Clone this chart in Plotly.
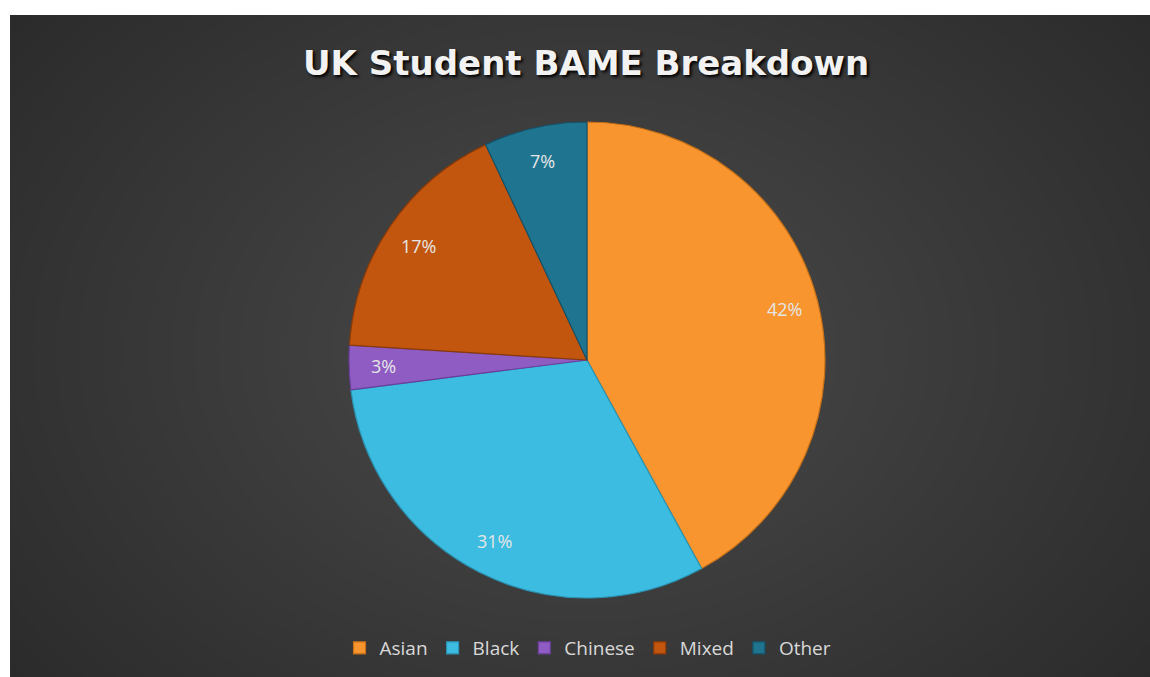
import math
import plotly.graph_objects as go

categories = ["Asian", "Black", "Chinese", "Mixed", "Other"]
values = [42, 31, 3, 17, 7]
colors = ["#F8952E", "#3BBCE0", "#8E5CC3", "#C2560F", "#1F7590"]
line_colors = ["#C46F16", "#2A93B3", "#6A3E9A", "#8A3A08", "#14536A"]
title_text = "UK Student BAME Breakdown"

W, H = 1150, 677
fig = go.Figure()

cx, cy, R = 587, 360, 238
fig.add_trace(go.Pie(
    labels=categories,
    values=values,
    sort=False,
    direction="clockwise",
    rotation=0,
    marker=dict(colors=colors, line=dict(color=line_colors, width=1.2)),
    textinfo="none",
    domain=dict(x=[(cx - R) / W, (cx + R) / W], y=[(H - cy - R) / H, (H - cy + R) / H]),
    hoverinfo="label+percent",
))

# percentage labels placed along each slice's mid-angle, near the rim (as in the reference)
annotations = []
total = sum(values)
cum = 0
for v in values:
    mid = (cum + v / 2) / total * 2 * math.pi
    cum += v
    r = 0.855 * R
    annotations.append(dict(
        text=f"{round(v / total * 100)}%", xref="paper", yref="paper",
        x=(cx + r * math.sin(mid)) / W, y=(H - cy + r * math.cos(mid)) / H,
        xanchor="center", yanchor="middle", showarrow=False,
        font=dict(family="Open Sans", size=18, color="#E6E6E6")))

annotations.append(dict(text="<b>" + title_text + "</b>", xref="paper", yref="paper",
                        x=586 / W, y=(H - 63) / H, xanchor="center", yanchor="middle",
                        showarrow=False,
                        font=dict(family="DejaVu Sans", size=34, color="#F2F2F2",
                                  shadow="2px 2px 3px #000000")))

shapes = [dict(type="rect", xref="paper", yref="paper", x0=10 / W, x1=1.01, y0=-0.01,
               y1=1 - 15 / H, fillcolor="#262626", line=dict(width=0), layer="below")]
# radial glow
gx, gy = 585, 350
n = 34
for i in range(n):
    rr = 720 - i * 20
    shapes.append(dict(type="circle", xref="paper", yref="paper",
                       x0=(gx - rr * 1.15) / W, x1=(gx + rr * 1.15) / W,
                       y0=(H - gy - rr * 0.85) / H, y1=(H - gy + rr * 0.85) / H,
                       fillcolor="rgba(255,255,255,0.0075)", line=dict(width=0), layer="below"))
# re-cover white border strips
shapes.append(dict(type="rect", xref="paper", yref="paper", x0=-0.1, x1=10 / W, y0=-0.1, y1=1.1,
                   fillcolor="white", line=dict(width=0), layer="below"))
shapes.append(dict(type="rect", xref="paper", yref="paper", x0=-0.1, x1=1.1, y0=1 - 15 / H, y1=1.1,
                   fillcolor="white", line=dict(width=0), layer="below"))

fig.update_layout(
    width=W, height=H,
    margin=dict(l=0, r=0, t=0, b=0),
    paper_bgcolor="white",
    plot_bgcolor="rgba(0,0,0,0)",
    shapes=shapes,
    showlegend=True,
    legend=dict(orientation="h", x=588 / W, xanchor="center", y=(H - 648) / H, yanchor="middle",
                font=dict(family="Open Sans", size=19, color="#D9D9D9"),
                bgcolor="rgba(0,0,0,0)", itemwidth=30, tracegroupgap=0),
    annotations=annotations,
)

fig.write_html("out.html", config={"displayModeBar": False},
               post_script="document.body.style.margin='0px';document.body.style.overflow='hidden';")
